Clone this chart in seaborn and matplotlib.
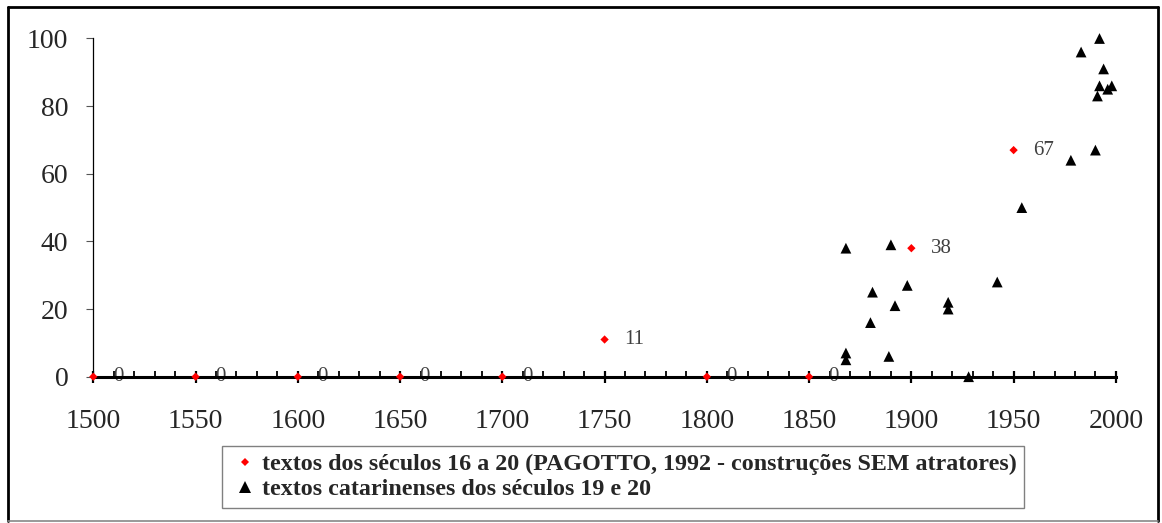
import pandas as pd
import matplotlib.pyplot as plt
import seaborn as sns
from matplotlib.lines import Line2D
from matplotlib.ticker import MultipleLocator

# PAGOTTO (1992) series, one point every 50 years
pag_years = [1500, 1550, 1600, 1650, 1700, 1750, 1800, 1850, 1900, 1950]
pag_values = [0, 0, 0, 0, 0, 11, 0, 0, 38, 67]

# textos catarinenses
cat_years = [1868, 1868, 1868, 1880, 1881, 1889, 1890, 1892, 1898, 1918, 1918, 1928,
             1942, 1954, 1978, 1983, 1990, 1991, 1992, 1992, 1994, 1996, 1998]
cat_values = [38, 7, 5, 16, 25, 6, 39, 21, 27, 22, 20, 0,
              28, 50, 64, 96, 67, 83, 86, 100, 91, 85, 86]

label_pag = 'textos dos séculos 16 a 20 (PAGOTTO, 1992 - construções SEM atratores)'
label_cat = 'textos catarinenses dos séculos 19 e 20'

pag = pd.DataFrame({'ano': pag_years, 'valor': pag_values})
cat = pd.DataFrame({'ano': cat_years, 'valor': cat_values})

sns.set_style('white')
plt.rcParams['font.family'] = ['Liberation Serif', 'DejaVu Serif']

fig = plt.figure(figsize=(11.62, 5.23), dpi=100, facecolor='white')
ax = fig.add_axes([0.0803, 0.2797, 0.8800, 0.6467])

sns.scatterplot(data=cat, x='ano', y='valor', marker='^', color='black', s=60,
                edgecolor='none', clip_on=False, zorder=4, ax=ax)
sns.scatterplot(data=pag, x='ano', y='valor', marker='D', color='red', s=18,
                edgecolor='none', clip_on=False, zorder=5, ax=ax)

for x, v in zip(pag_years, pag_values):
    ax.annotate(str(v), (x, v), xytext=(14, 0), textcoords='offset points',
                ha='left', va='center', fontsize=15, color='#404040', zorder=2)

ax.set_xlim(1500, 2000)
ax.set_ylim(0, 100)
ax.xaxis.set_major_locator(MultipleLocator(50))
ax.xaxis.set_minor_locator(MultipleLocator(10))
ax.yaxis.set_major_locator(MultipleLocator(20))
ax.set_xlabel('')
ax.set_ylabel('')

ax.spines['top'].set_visible(False)
ax.spines['right'].set_visible(False)
ax.spines['bottom'].set_linewidth(2.2)
ax.spines['bottom'].set_color('black')
ax.spines['left'].set_linewidth(0.9)
ax.spines['left'].set_color('black')

ax.tick_params(axis='x', which='major', direction='inout', length=9, width=1.6,
               color='black', labelsize=20, pad=19, bottom=True)
ax.tick_params(axis='x', which='minor', direction='in', length=4.5, width=1.3,
               color='black', bottom=True)
ax.tick_params(axis='y', which='major', direction='out', length=5, width=0.8,
               color='#555555', labelsize=20, pad=13, left=True)

handles = [
    Line2D([], [], linestyle='none', marker='D', markersize=4.5, color='red', markeredgewidth=0),
    Line2D([], [], linestyle='none', marker='^', markersize=8, color='black', markeredgewidth=0),
]
leg = ax.legend(handles, [label_pag, label_cat], loc='upper left',
                bbox_to_anchor=(222 / 1162, 1 - 446 / 523), bbox_transform=fig.transFigure,
                frameon=True, fancybox=False, edgecolor='#808080', framealpha=1,
                prop={'weight': 'bold', 'size': 17.3}, handlelength=1.3,
                handletextpad=0.05, borderpad=0.3, labelspacing=0.15,
                borderaxespad=0)
leg.get_frame().set_linewidth(1.0)

# outer frame of the figure
W, H = 1162, 523
def fline(x0, y0, x1, y1, c, lw):
    fig.add_artist(Line2D([x0 / W, x1 / W], [1 - y0 / H, 1 - y1 / H], color=c,
                          linewidth=lw, transform=fig.transFigure))
fline(8, 7, 1158, 7, 'black', 2.0)
fline(8, 7, 8, 521, 'black', 2.0)
fline(1158, 7, 1158, 521, 'black', 2.0)
fline(8, 521, 1158, 521, '#888888', 1.2)

plt.savefig('out.png', dpi=100, facecolor='white')
